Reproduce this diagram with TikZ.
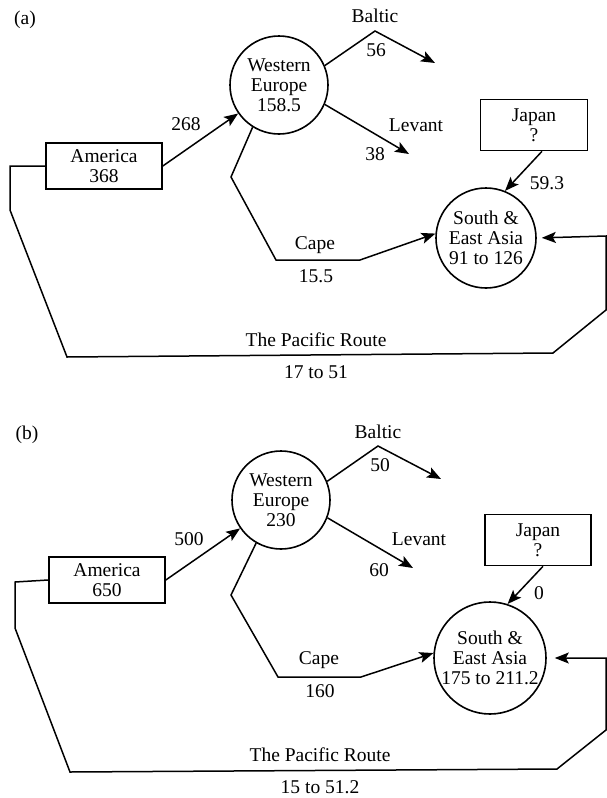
\documentclass[tikz,border=0pt]{standalone}
\usepackage{fontspec}
\setmainfont{Liberation Serif}
\usetikzlibrary{arrows.meta,calc}
\begin{document}
\begin{tikzpicture}[x=1pt,y=-1pt,
  font=\fontsize{19.5}{20}\selectfont,
  box/.style={draw, line width=1.6pt, align=center, inner sep=0pt},
  region/.style={draw, circle, line width=1.6pt, align=center, inner sep=0pt},
  lbl/.style={inner sep=0pt},
  route/.style={line width=1.5pt, line join=miter},
  flow/.style={line width=1.5pt, -{Stealth[length=14pt,width=11pt,inset=3pt]}}]
\useasboundingbox (0,0) rectangle (606,798);
% ---------------- panel (a)
\node[lbl] (tagA) at (25,20) {(a)};
\node[box, minimum width=116pt, minimum height=46pt] (amA) at (104,166) {America\\368};
\node[region, minimum size=98pt] (weA) at (279,85) {Western\\Europe\\158.5};
\node[box, minimum width=107pt, minimum height=51pt] (jpA) at (534,125) {Japan\\?};
\node[region, minimum size=100pt] (seaA) at (486,238) {South \&\\East Asia\\91 to 126};
\coordinate (baltPA) at (375,31);
\coordinate (baltEA) at (435,63);
\coordinate (levEA) at (409,154);
\coordinate (capeP1A) at (231,177);
\coordinate (capeP2A) at (276,260);
\coordinate (capeP3A) at (360,260);
\coordinate (pacP1A) at (10,166);
\coordinate (pacP2A) at (10,210);
\coordinate (pacP3A) at (67,357);
\coordinate (pacP4A) at (553,353);
\coordinate (pacP5A) at (606,310);
\coordinate (pacP6A) at (606,236);
\draw[flow] (amA.east) -- (weA);
\draw[flow] (weA.23) -- (baltPA) -- (baltEA);
\draw[flow] (weA.-23) -- (levEA);
\draw[flow] (weA.-122) -- (capeP1A) -- (capeP2A) -- (capeP3A) -- (seaA.175);
\draw[flow] ($(jpA.south)+(8,0)$) -- (seaA.68);
\draw[flow, shorten >=5pt] (amA.west) -- (pacP1A) -- (pacP2A) -- (pacP3A) -- (pacP4A) -- (pacP5A) -- (pacP6A) -- (seaA.east);
\node[lbl] (l268A) at (186,124) {268};
\node[lbl] (baltLA) at (375,16) {Baltic};
\node[lbl] (baltVA) at (376,50) {56};
\node[lbl] (levLA) at (416,125) {Levant};
\node[lbl] (levVA) at (375,154) {38};
\node[lbl] (capeLA) at (315,245) {Cape};
\node[lbl] (capeVA) at (316,276) {15.5};
\node[lbl] (jpVA) at (547,183) {59.3};
\node[lbl] (pacLA) at (316,340) {The Pacific Route};
\node[lbl] (pacVA) at (316,372) {17 to 51};
% ---------------- panel (b)
\node[lbl] (tagB) at (27,435) {(b)};
\node[box, minimum width=116pt, minimum height=46pt] (amB) at (107,580) {America\\650};
\node[region, minimum size=98pt] (weB) at (281,500) {Western\\Europe\\230};
\node[box, minimum width=106pt, minimum height=51pt] (jpB) at (538,540) {Japan\\?};
\node[region, minimum size=112pt] (seaB) at (490,658) {South \&\\East Asia\\175 to 211.2};
\coordinate (baltPB) at (378,446);
\coordinate (baltEB) at (441,479);
\coordinate (levEB) at (413,568);
\coordinate (capeP1B) at (231,595);
\coordinate (capeP2B) at (278,677);
\coordinate (capeP3B) at (361,677);
\coordinate (pacP1B) at (15,582);
\coordinate (pacP2B) at (15,628);
\coordinate (pacP3B) at (70,772);
\coordinate (pacP4B) at (557,769);
\coordinate (pacP5B) at (606,730);
\coordinate (pacP6B) at (606,658);
\draw[flow] (amB.east) -- (weB);
\draw[flow] (weB.22) -- (baltPB) -- (baltEB);
\draw[flow] (weB.-21) -- (levEB);
\draw[flow] (weB.-120) -- (capeP1B) -- (capeP2B) -- (capeP3B) -- (seaB.175);
\draw[flow] ($(jpB.south)+(5,0)$) -- (seaB.72);
\draw[flow, shorten >=8pt] (amB.west) -- (pacP1B) -- (pacP2B) -- (pacP3B) -- (pacP4B) -- (pacP5B) -- (pacP6B) -- (seaB.east);
\node[lbl] (l500B) at (189,539) {500};
\node[lbl] (baltLB) at (378,432) {Baltic};
\node[lbl] (baltVB) at (380,465) {50};
\node[lbl] (levLB) at (419,539) {Levant};
\node[lbl] (levVB) at (379,570) {60};
\node[lbl] (capeLB) at (319,660) {Cape};
\node[lbl] (capeVB) at (320,691) {160};
\node[lbl] (jpVB) at (539,593) {0};
\node[lbl] (pacLB) at (320,755) {The Pacific Route};
\node[lbl] (pacVB) at (320,787) {15 to 51.2};
\end{tikzpicture}
\end{document}
